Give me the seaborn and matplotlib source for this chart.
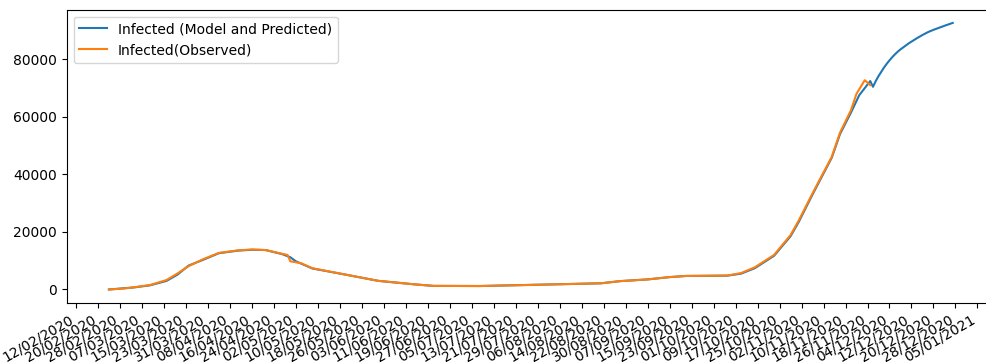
import matplotlib
matplotlib.use("Agg")
import matplotlib.pyplot as plt
import matplotlib.dates as mdates
import pandas as pd
import seaborn as sns

# Observed infected
obs_dates = ["2020-02-24", "2020-02-29", "2020-03-04", "2020-03-10", "2020-03-16",
             "2020-03-20", "2020-03-24", "2020-03-29", "2020-04-04", "2020-04-11",
             "2020-04-16", "2020-04-21", "2020-04-27", "2020-04-29", "2020-04-30",
             "2020-05-04", "2020-05-08", "2020-05-21", "2020-06-01", "2020-06-14",
             "2020-06-21", "2020-07-08", "2020-07-29", "2020-08-21", "2020-08-28",
             "2020-09-07", "2020-09-15", "2020-09-21", "2020-10-06", "2020-10-11",
             "2020-10-16", "2020-10-23", "2020-10-29", "2020-11-01", "2020-11-06",
             "2020-11-13", "2020-11-16", "2020-11-20", "2020-11-22", "2020-11-25",
             "2020-11-27"]
obs_values = [0, 300, 750, 1550, 3300,
              5600, 8100, 10400, 12700, 13600,
              13900, 13700, 12400, 12000, 9800,
              9100, 7400, 5000, 3000, 1800,
              1250, 1200, 1650, 2150, 2900,
              3500, 4300, 4700, 4850, 5700,
              7700, 12000, 18900, 24000, 33400,
              46100, 54500, 62300, 68000, 72700,
              71000]

# Model fit and prediction
model_dates = ["2020-02-24", "2020-03-04", "2020-03-10", "2020-03-16", "2020-03-20",
               "2020-03-24", "2020-03-29", "2020-04-04", "2020-04-11", "2020-04-16",
               "2020-04-21", "2020-04-27", "2020-04-30", "2020-05-02", "2020-05-08",
               "2020-05-21", "2020-06-01", "2020-06-14", "2020-06-21", "2020-07-08",
               "2020-07-29", "2020-08-21", "2020-08-28", "2020-09-07", "2020-09-15",
               "2020-09-21", "2020-10-06", "2020-10-11", "2020-10-16", "2020-10-23",
               "2020-10-29", "2020-11-01", "2020-11-06", "2020-11-13", "2020-11-16",
               "2020-11-20", "2020-11-23", "2020-11-27", "2020-11-28", "2020-11-29",
               "2020-11-30", "2020-12-01", "2020-12-02", "2020-12-03", "2020-12-04",
               "2020-12-05", "2020-12-06", "2020-12-07", "2020-12-08", "2020-12-09",
               "2020-12-10", "2020-12-11", "2020-12-12", "2020-12-14", "2020-12-16",
               "2020-12-18", "2020-12-20", "2020-12-22", "2020-12-24", "2020-12-27"]
model_values = [0, 700, 1450, 3000, 5200,
                8300, 10200, 12600, 13500, 13800,
                13700, 12300, 11200, 9800, 7300,
                5000, 3000, 1800, 1250, 1200,
                1650, 2150, 2900, 3500, 4300,
                4700, 4800, 5500, 7400, 11700,
                18500, 23500, 33000, 45800, 54000,
                61500, 67500, 72400, 70400, 72400,
                74100, 75600, 77100, 78400, 79600,
                80700, 81700, 82600, 83400, 84100,
                84800, 85500, 86100, 87300, 88400,
                89400, 90200, 90900, 91600, 92600]

tick_start = "2020-02-12"
tick_end = "2021-01-05"

obs = pd.DataFrame({"date": pd.to_datetime(obs_dates), "value": obs_values})
model = pd.DataFrame({"date": pd.to_datetime(model_dates), "value": model_values})

fig = plt.figure(figsize=(9.87, 3.63), dpi=100)
ax = fig.add_axes([0.0676, 0.1658, 1.008 - 0.0676, 0.9736 - 0.1658])

sns.lineplot(data=model, x="date", y="value", ax=ax, color="#1f77b4",
             label="Infected (Model and Predicted)")
sns.lineplot(data=obs, x="date", y="value", ax=ax, color="#ff7f0e",
             label="Infected(Observed)")

ax.set_xticks(pd.date_range(tick_start, tick_end, freq="8D"))
ax.xaxis.set_major_formatter(mdates.DateFormatter("%d/%m/%Y"))
for lbl in ax.get_xticklabels():
    lbl.set_rotation(30)
    lbl.set_ha("right")
ax.set_xlabel("")
ax.set_ylabel("")
ax.set_yticks([0, 20000, 40000, 60000, 80000])
ax.legend(loc="upper left")

fig.savefig("out.png", dpi=100)
